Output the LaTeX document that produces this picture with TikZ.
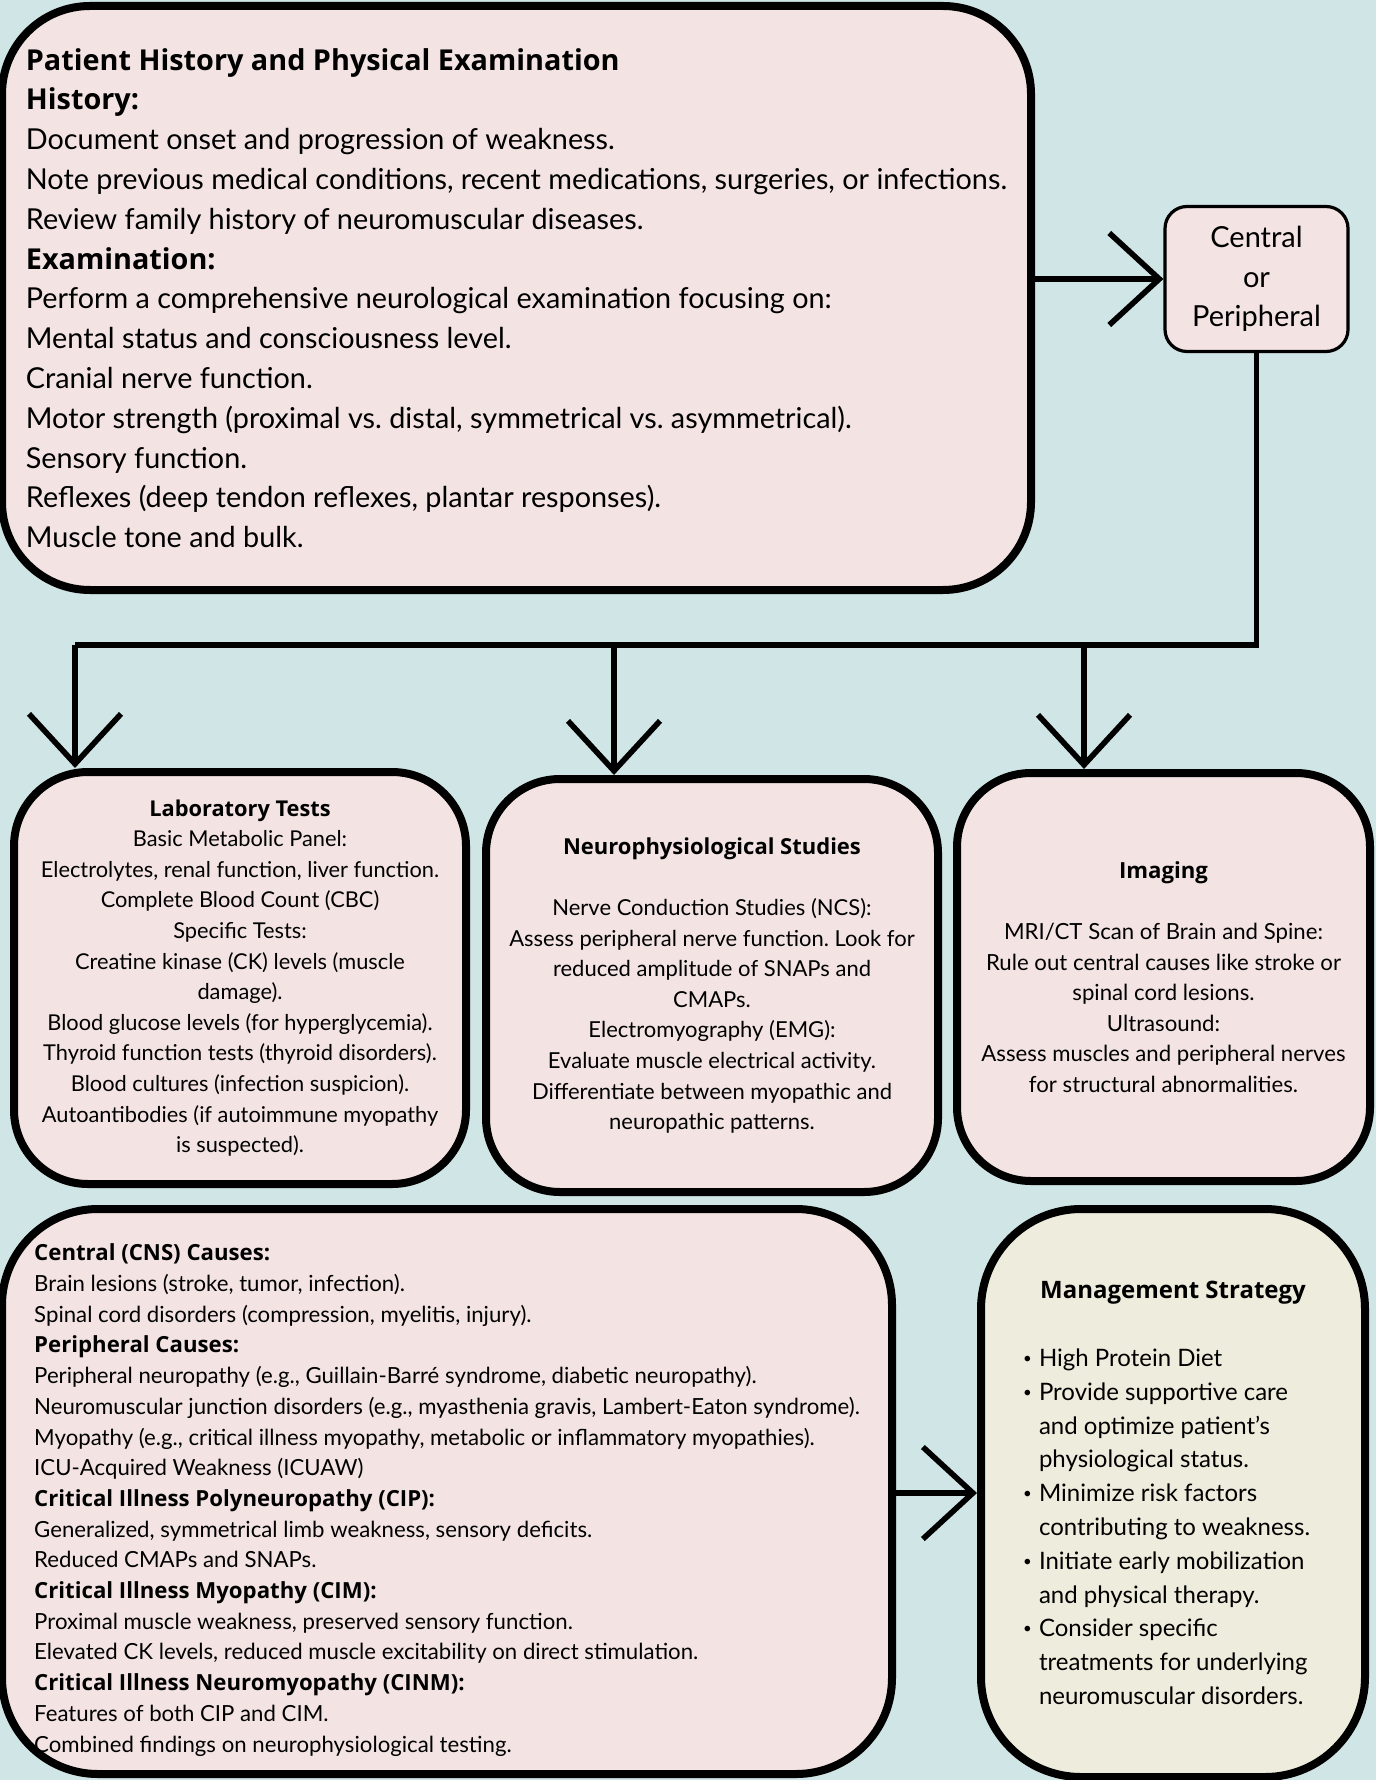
\documentclass[tikz,border=0pt]{standalone}
\usepackage{fontspec}
\setmainfont{Lato}
\newfontfamily\headfont{Open Sans}
\usepackage{xcolor}
\usetikzlibrary{arrows.meta}
\frenchspacing

\definecolor{bgteal}{RGB}{208,229,230}
\definecolor{boxpink}{RGB}{243,228,227}
\definecolor{boxcream}{RGB}{238,236,220}

\newcommand{\hd}[1]{{\headfont\bfseries #1}}
\newcommand{\mbul}{\makebox[8pt][l]{\raisebox{1.6pt}{\fontsize{7.5}{7.5}\selectfont\textbullet}}}
\newcommand{\mind}{\hspace*{8pt}}

\begin{document}
\begin{tikzpicture}[x=0.5pt, y=-0.5pt,
	box/.style={draw=black, fill=boxpink, line width=4pt, inner sep=0pt},
	flow/.style={line width=2.8pt, -{Straight Barb[length=25pt, width=46pt]}},
	wire/.style={line width=2.8pt}]
				%\draw[help lines] (0,0) grid (1376,1780);
				\useasboundingbox (0,0) rectangle (1376,1780);
				\fill[bgteal] (0,0) rectangle (1376,1780);
				
				\node[box, rounded corners=44pt, minimum width=514.5pt, minimum height=292pt, align=left,
				font=\fontsize{14.4}{19.9}\selectfont] (hist) at (516.5,298)
				{\hd{Patient History and Physical Examination}\\
				\hd{History:}\\
				Document onset and progression of weakness.\\
				Note previous medical conditions, recent medications, surgeries, or infections.\\
				Review family history of neuromuscular diseases.\\
				\hd{Examination:}\\
				Perform a comprehensive neurological examination focusing on:\\
				Mental status and consciousness level.\\
				Cranial nerve function.\\
				Motor strength (proximal vs. distal, symmetrical vs. asymmetrical).\\
				Sensory function.\\
				Reflexes (deep tendon reflexes, plantar responses).\\
				Muscle tone and bulk.};
				
				\node[box, line width=1.6pt, rounded corners=11pt, minimum width=91.5pt, minimum height=72.5pt, align=center,
				font=\fontsize{14.5}{19.9}\selectfont] (cop) at (1256.5,279)
				{Central\\ or\\ Peripheral};
				
				\node[box, rounded corners=37pt, minimum width=226pt, minimum height=206pt, align=center,
				font=\fontsize{10.9}{15.3}\selectfont] (lab) at (240,978)
				{\hd{Laboratory Tests}\\
				Basic Metabolic Panel:\\
				Electrolytes, renal function, liver function.\\
				Complete Blood Count (CBC)\\
				Specific Tests:\\
				Creatine kinase (CK) levels (muscle\\
				damage).\\
				Blood glucose levels (for hyperglycemia).\\
				Thyroid function tests (thyroid disorders).\\
				Blood cultures (infection suspicion).\\
				Autoantibodies (if autoimmune myopathy\\
				is suspected).};
				
				\node[box, rounded corners=37pt, minimum width=226pt, minimum height=206.5pt, align=center,
				font=\fontsize{11}{15.3}\selectfont] (neuro) at (712,985.5)
				{\hd{Neurophysiological Studies}\\ \mbox{}\\
				Nerve Conduction Studies (NCS):\\
				Assess peripheral nerve function. Look for\\
				reduced amplitude of SNAPs and\\
				CMAPs.\\
				Electromyography (EMG):\\
				Evaluate muscle electrical activity.\\
				Differentiate between myopathic and\\
				neuropathic patterns.};
				
				\node[box, rounded corners=37pt, minimum width=206.5pt, minimum height=204pt, align=center,
				font=\fontsize{11.1}{15.3}\selectfont] (img) at (1163.5,977)
				{\hd{Imaging}\\ \mbox{}\\
				MRI/CT Scan of Brain and Spine:\\
				Rule out central causes like stroke or\\
				spinal cord lesions.\\
				Ultrasound:\\
				Assess muscles and peripheral nerves\\
				for structural abnormalities.};
				
				\node[box, rounded corners=48pt, minimum width=445pt, minimum height=282.5pt, align=left,
				font=\fontsize{11.1}{15.35}\selectfont] (causes) at (447,1491.5)
				{\rule{0pt}{17pt}\hd{Central (CNS) Causes:}\\
				Brain lesions (stroke, tumor, infection).\\
				Spinal cord disorders (compression, myelitis, injury).\\
				\hd{Peripheral Causes:}\\
				Peripheral neuropathy (e.g., Guillain-Barré syndrome, diabetic neuropathy).\\
				Neuromuscular junction disorders (e.g., myasthenia gravis, Lambert-Eaton syndrome).\\
				Myopathy (e.g., critical illness myopathy, metabolic or inflammatory myopathies).\\
				ICU-Acquired Weakness (ICUAW)\\
				\hd{Critical Illness Polyneuropathy (CIP):}\\
				Generalized, symmetrical limb weakness, sensory deficits.\\
				Reduced CMAPs and SNAPs.\\
				\hd{Critical Illness Myopathy (CIM):}\\
				Proximal muscle weakness, preserved sensory function.\\
				Elevated CK levels, reduced muscle excitability on direct stimulation.\\
				\hd{Critical Illness Neuromyopathy (CINM):}\\
				Features of both CIP and CIM.\\
				Combined findings on neurophysiological testing.};
				
				\node[box, fill=boxcream, rounded corners=50pt, minimum width=192pt, minimum height=284pt, align=left,
				font=\fontsize{12}{16.9}\selectfont] (mgmt) at (1173,1493)
				{\makebox[150pt]{\hd{Management Strategy}}\\ \mbox{}\\
				\mbul High Protein Diet\\
				\mbul Provide supportive care\\
				\mind and optimize patient’s\\
				\mind physiological status.\\
				\mbul Minimize risk factors\\
				\mind contributing to weakness.\\
				\mbul Initiate early mobilization\\
				\mind and physical therapy.\\
				\mbul Consider specific\\
				\mind treatments for underlying\\
				\mind neuromuscular disorders.};
				
				\coordinate (labtop) at (75,645);
				\coordinate (neutop) at (614,645);
				\coordinate (imgtop) at (1084,645);
				
				\draw[flow] (hist.east |- cop.west) -- (cop.west);
				\draw[wire] (cop.south) |- (labtop);
				\draw[flow] (labtop) -- (labtop |- lab.north);
				\draw[flow] (neutop) -- (neutop |- neuro.north);
				\draw[flow] (imgtop) -- (imgtop |- img.north);
				\draw[flow] (causes.east |- mgmt.west) -- (mgmt.west);
				\end{tikzpicture}
\end{document}
